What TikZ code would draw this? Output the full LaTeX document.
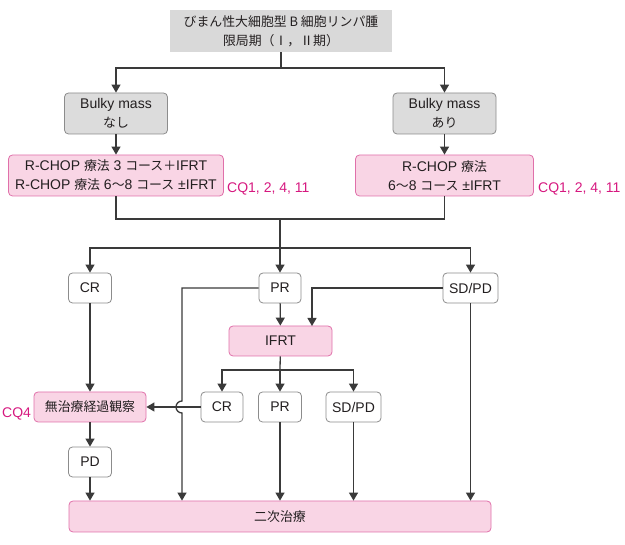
\documentclass[tikz,border=0pt]{standalone}
\usepackage{fontspec}
\setmainfont{Liberation Sans}
\newfontfamily\jp{Noto Sans CJK JP}[Scale=0.92]
\usetikzlibrary{arrows.meta}
\definecolor{pinkfill}{HTML}{F9D5E5}
\definecolor{pinkline}{HTML}{E070AA}
\definecolor{grayfill}{HTML}{DCDCDC}
\definecolor{topfill}{HTML}{D9D9D9}
\definecolor{boxline}{HTML}{8C8C8C}
\definecolor{linecol}{HTML}{3A3A3A}
\definecolor{cqcol}{HTML}{D6187F}
\definecolor{txt}{HTML}{231F20}
\begin{document}
\begin{tikzpicture}[x=1pt,y=-1pt,
  every node/.style={font=\fontsize{14}{19}\selectfont, text=txt, align=center, inner sep=0pt},
  basebox/.style={rounded corners=4pt, line width=0.8pt, minimum height=30pt},
  wbox/.style={basebox, draw=boxline, fill=white},
  gbox/.style={basebox, draw=boxline, fill=grayfill},
  pbox/.style={basebox, draw=pinkline, fill=pinkfill},
  cq/.style={text=cqcol, anchor=west},
  conn/.style={draw=linecol, line width=1.3pt},
  arr/.style={conn, -{Triangle[width=9pt,length=8pt]}}
]
\useasboundingbox (0,0) rectangle (625,545);

\node[fill=topfill, minimum width=222pt, minimum height=42pt] (top) at (281,31)
  {{\jp びまん性大細胞型 B 細胞リンパ腫}\\{\jp 限局期（Ⅰ，Ⅱ期）}};

\node[gbox, minimum width=103pt, minimum height=41pt] (bn) at (116,113.5) {Bulky mass\\{\jp なし}};
\node[gbox, minimum width=103pt, minimum height=41pt] (ba) at (444.5,113.5) {Bulky mass\\{\jp あり}};

\node[pbox, minimum width=215pt, minimum height=41pt] (rn) at (116,175.5)
  {R-CHOP {\jp 療法} 3 {\jp コース＋}IFRT\\R-CHOP {\jp 療法} 6{\jp ～}8 {\jp コース} ±IFRT};
\node[pbox, minimum width=178pt, minimum height=41pt] (ra) at (444.5,175.5)
  {R-CHOP {\jp 療法}\\6{\jp ～}8 {\jp コース} ±IFRT};
\node[cq] (cqa) at (227,189) {CQ1, 2, 4, 11};
\node[cq] (cqb) at (538,189) {CQ1, 2, 4, 11};

\node[wbox, minimum width=43pt] (cr) at (90,288) {CR};
\node[wbox, minimum width=42pt] (pr) at (280,288) {PR};
\node[wbox, minimum width=55pt] (sd) at (470.5,288) {SD/PD};

\node[pbox, minimum width=103pt] (ifrt) at (280.5,341) {IFRT};

\node[wbox, minimum width=42pt] (cr2) at (222,407) {CR};
\node[wbox, minimum width=43pt] (pr2) at (280,407) {PR};
\node[wbox, minimum width=55pt] (sd2) at (353.5,407) {SD/PD};

\node[pbox, minimum width=112pt] (obs) at (90,407) {{\jp 無治療経過観察}};
\node[cq] (cq4) at (2,414) {CQ4};
\node[wbox, minimum width=43pt] (pd) at (90,462) {PD};

\node[pbox, minimum width=422pt, minimum height=31pt] (sec) at (280,516.5) {{\jp 二次治療}};

% junctions
\coordinate (j1) at (281,68);
\coordinate (j2) at (280,219);
\coordinate (j3) at (280,248);
\coordinate (j4) at (280,370);
\coordinate (hop) at (182,401);
\coordinate (sdin) at (312,326);

\draw[conn] (top) -- (j1);
\draw[arr] (j1) -| (bn);
\draw[arr] (j1) -| (ba);
\draw[arr] (bn) -- (rn);
\draw[arr] (ba) -- (ra);

\draw[conn] (rn) |- (j2);
\draw[conn] (ra) |- (j2);
\draw[conn] (j2) -- (j3);
\draw[arr] (j3) -| (cr);
\draw[arr] (j3) -- (pr);
\draw[arr] (j3) -| (sd);

\draw[arr] (pr) -- (ifrt);
\draw[arr] (sd.west) -| (sdin);

\draw[conn] (ifrt) -- (j4);
\draw[arr] (j4) -| (cr2);
\draw[arr] (j4) -- (pr2);
\draw[arr] (j4) -| (sd2);

\draw[arr] (cr2) -- (obs);
\draw[arr] (pr.west) -| (hop) arc[start angle=90, end angle=270, radius=6pt] -- (hop |- sec.north);

\draw[arr] (cr) -- (obs);
\draw[arr] (obs) -- (pd);
\draw[arr] (pd) -- (pd |- sec.north);
\draw[arr] (pr2) -- (pr2 |- sec.north);
\draw[arr] (sd2) -- (sd2 |- sec.north);
\draw[arr] (sd) -- (sd |- sec.north);
\end{tikzpicture}
\end{document}
